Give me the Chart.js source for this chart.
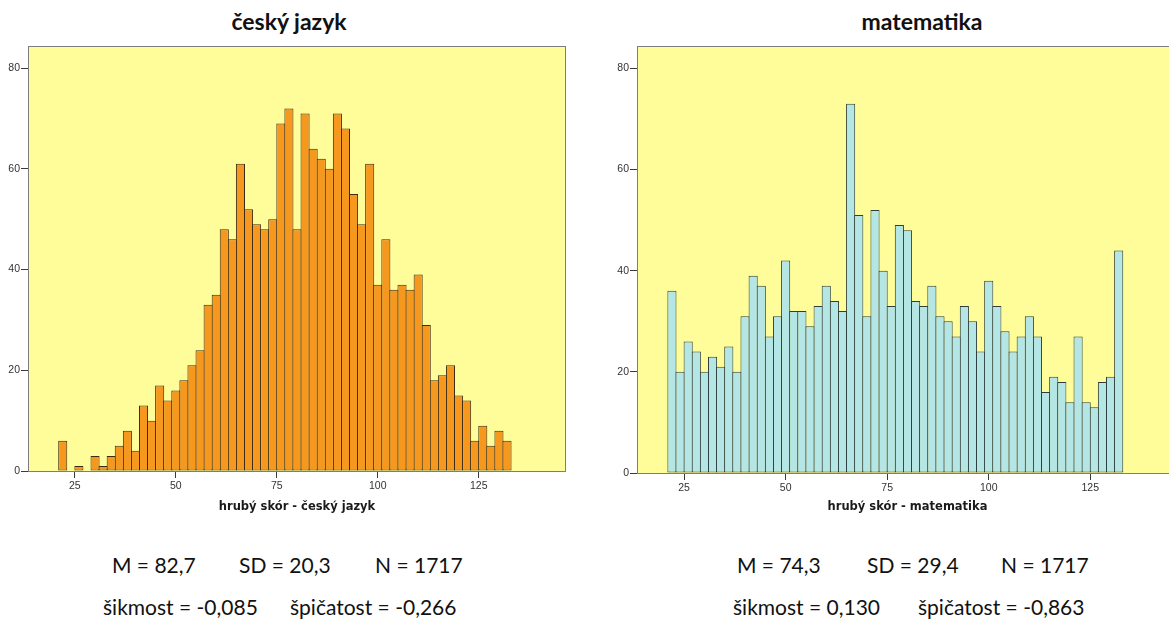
<!DOCTYPE html>
<html lang="cs">
<head>
<meta charset="utf-8">
<title>Hrubý skór – český jazyk a matematika</title>
<script src="https://cdn.jsdelivr.net/npm/chart.js@4.4.1/dist/chart.umd.min.js"></script>
<style>
  html, body { margin: 0; padding: 0; background: #fff; }
  body { width: 1169px; height: 624px; overflow: hidden; position: relative; }
  canvas { position: absolute; }
  .title { position: absolute; top: 6px; font: bold 23px Lato, "Open Sans", sans-serif; color: #111;
           transform: translateX(-50%); white-space: nowrap; line-height: 30px; }
  .stat { position: absolute; font: 21px Lato, "Open Sans", sans-serif; color: #111; white-space: nowrap; line-height: 24px; }
</style>
</head>
<body>
<div class="title" style="left:289px">český jazyk</div>
<div class="title" style="left:922px">matematika</div>

<canvas id="czech" width="578" height="525" style="left:0;top:0;width:578px;height:525px"></canvas>
<canvas id="math" width="590" height="525" style="left:600px;top:0;width:590px;height:525px"></canvas>

<div class="stat" style="left:112px;top:553px">M = 82,7</div>
<div class="stat" style="left:239px;top:553px">SD = 20,3</div>
<div class="stat" style="left:375px;top:553px">N = 1717</div>
<div class="stat" style="left:103px;top:595px">šikmost = -0,085</div>
<div class="stat" style="left:290px;top:595px">špičatost = -0,266</div>

<div class="stat" style="left:737px;top:553px">M = 74,3</div>
<div class="stat" style="left:867px;top:553px">SD = 29,4</div>
<div class="stat" style="left:1001px;top:553px">N = 1717</div>
<div class="stat" style="left:733px;top:595px">šikmost = 0,130</div>
<div class="stat" style="left:918px;top:595px">špičatost = -0,863</div>

<script>
// Lower edges of the 2-point score bins (raw score)
const binLower = [21, 23, 25, 27, 29, 31, 33, 35, 37, 39, 41, 43, 45, 47, 49, 51, 53, 55, 57, 59,
                  61, 63, 65, 67, 69, 71, 73, 75, 77, 79, 81, 83, 85, 87, 89, 91, 93, 95, 97, 99,
                  101, 103, 105, 107, 109, 111, 113, 115, 117, 119, 121, 123, 125, 127, 129, 131];
const binWidth = 2;

// Frequencies per bin – Czech language (N = 1717)
const czechCounts = [6, 0, 1, 0, 3, 1, 3, 5, 8, 4, 13, 10, 17, 14, 16, 18, 21, 24, 33, 35,
                     48, 46, 61, 52, 49, 48, 50, 69, 72, 48, 71, 64, 62, 60, 71, 68, 55, 49, 61, 37,
                     46, 36, 37, 36, 39, 29, 18, 19, 21, 15, 14, 6, 9, 5, 8, 6];

// Frequencies per bin – mathematics (N = 1717)
const mathCounts = [36, 20, 26, 24, 20, 23, 21, 25, 20, 31, 39, 37, 27, 31, 42, 32, 32, 29, 33, 37,
                    34, 32, 73, 51, 31, 52, 40, 33, 49, 48, 34, 33, 37, 31, 30, 27, 33, 30, 24, 38,
                    33, 28, 24, 27, 31, 27, 16, 19, 18, 14, 27, 14, 13, 18, 19, 44];

const xTickValues = [25, 50, 75, 100, 125];
const yTickValues = [0, 20, 40, 60, 80];

const xTitles = { czech: 'hrubý skór - český jazyk', math: 'hrubý skór - matematika' };

const PLOT_BG = '#FFFD99';
const FRAME = '#7d7d7d';

// Yellow plot area behind the bars and grey frame around it
const plotFrame = {
  id: 'plotFrame',
  beforeDatasetsDraw(chart) {
    const a = chart.chartArea, ctx = chart.ctx;
    ctx.save();
    ctx.fillStyle = PLOT_BG;
    ctx.fillRect(a.left, a.top, a.right - a.left, a.bottom - a.top);
    ctx.restore();
  },
  afterDatasetsDraw(chart) {
    const a = chart.chartArea, ctx = chart.ctx;
    ctx.save();
    ctx.strokeStyle = FRAME;
    ctx.lineWidth = 1;
    ctx.strokeRect(Math.round(a.left) + 0.5, Math.round(a.top) + 0.5,
                   Math.round(a.right - a.left) - 1, Math.round(a.bottom - a.top));
    ctx.restore();
  }
};

function histogram(canvasId, counts, fill, edge, yAxisWidth, xAxisHeight, xTitle) {
  const points = binLower.map((lo, i) => ({ x: lo + binWidth / 2, y: counts[i] }));
  return new Chart(document.getElementById(canvasId), {
    type: 'bar',
    data: {
      datasets: [{
        data: points,
        backgroundColor: fill,
        borderColor: edge,
        borderWidth: 1,
        borderSkipped: false,
        categoryPercentage: 1,
        barPercentage: 1.124
      }]
    },
    options: {
      responsive: false,
      animation: false,
      events: [],
      layout: { padding: { left: 0, right: 12, top: 46, bottom: 0 } },
      plugins: { legend: { display: false }, tooltip: { enabled: false }, title: { display: false } },
      scales: {
        x: {
          type: 'linear',
          min: 13.4,
          max: 146.6,
          offset: false,
          afterBuildTicks: s => { s.ticks = xTickValues.map(v => ({ value: v })); },
          afterFit: s => { s.height = xAxisHeight; },
          grid: { display: true, drawOnChartArea: false, drawTicks: true, tickLength: 7, color: '#3a3a3a', offset: false },
          border: { display: false },
          ticks: { color: '#333', padding: 2, maxRotation: 0, autoSkip: false,
                   font: { family: '"Liberation Sans", Arial, sans-serif', size: 10.5 } },
          title: { display: true, text: xTitle, color: '#1a1a1a',
                   font: { family: '"DejaVu Sans", sans-serif', size: 11.5, weight: 'bold' },
                   padding: { top: 0, bottom: 11 } }
        },
        y: {
          type: 'linear',
          min: 0,
          max: 84.4,
          afterBuildTicks: s => { s.ticks = yTickValues.map(v => ({ value: v })); },
          afterFit: s => { s.width = yAxisWidth; },
          grid: { display: true, drawOnChartArea: false, drawTicks: true, tickLength: 7, color: '#3a3a3a' },
          border: { display: false },
          ticks: { color: '#333', padding: 1,
                   font: { family: '"Liberation Sans", Arial, sans-serif', size: 10.5 } }
        }
      }
    },
    plugins: [plotFrame]
  });
}

histogram('czech', czechCounts, '#F7981E', '#3b2a14', 28, 54, xTitles.czech);
histogram('math', mathCounts, '#B4E6E6', '#2f3d3d', 37, 52, xTitles.math);
</script>
</body>
</html>
